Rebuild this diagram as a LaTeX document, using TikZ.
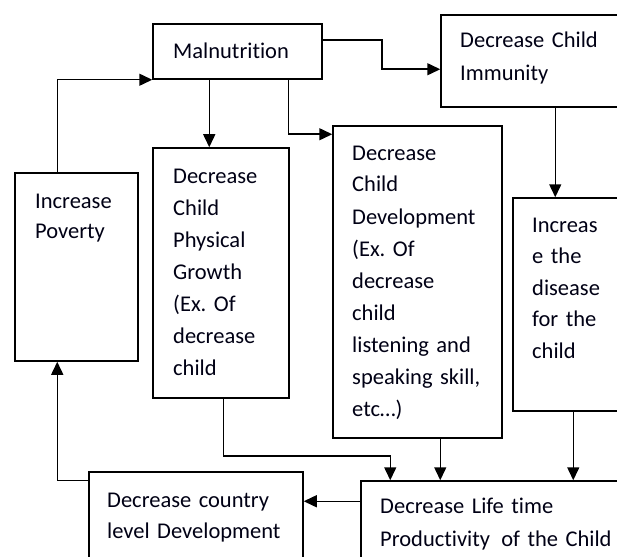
\documentclass[tikz,border=0pt]{standalone}
\usepackage{fontspec}
\setmainfont{Carlito}[Ligatures=NoCommon]
\usetikzlibrary{calc,arrows.meta}

\tikzset{
  box/.style={draw, line width=1.5pt, inner sep=0pt, rectangle},
  arr/.style={line width=1.5pt, -{Triangle[length=13pt,width=12pt]}},
  txt/.style={anchor=base west, inner sep=0pt, text width=300pt, align=left,
              font=\fontsize{22.5}{32}\selectfont, text=black!92!blue},
}
% place a box by its left, top, right and bottom edges
\newcommand{\boxat}[5]{%
  \node[box, minimum width=#4-#2, minimum height=#5-#3] (#1)
    at ({(#2+#4)/2},{(#3+#5)/2}) {};}

\begin{document}
\frenchspacing
\begin{tikzpicture}[x=1pt, y=-1pt]
  \useasboundingbox (0,0) rectangle (617,556);
  \clip (0,0) rectangle (617,556);

  % boxes
  \boxat{mal}{153}{24}{322}{79}
  \boxat{imm}{441}{15}{640}{107}
  \boxat{pov}{15}{173}{138}{361}
  \boxat{phy}{153}{148}{289}{398}
  \boxat{dev}{333}{126}{502}{438}
  \boxat{dis}{513}{198}{640}{411}
  \boxat{cty}{89}{472}{303}{580}
  \boxat{life}{361}{481}{640}{580}

  % texts
  \node[txt] (tmal) at (173,59) {Malnutrition};
  \node[txt, font=\fontsize{22.5}{32.5}\selectfont] (timm) at (460,48) {Decrease Child\\Immunity};
  \node[txt, font=\fontsize{22.5}{30}\selectfont] (tpov) at (35,208) {Increase\\Poverty};
  \node[txt] (tphy) at (173,183) {Decrease\\Child\\Physical\\Growth\\(Ex. Of\\decrease\\child};
  \node[txt] (tdev) at (352,160) {Decrease\\Child\\Development\\(Ex. Of\\decrease\\child\\listening and\\speaking skill,\\etc\ldots)};
  \node[txt, font=\fontsize{22.5}{31.5}\selectfont] (tdis) at (532,232) {Increas\\e the\\disease\\for the\\child};
  \node[txt, font=\fontsize{22.5}{31}\selectfont] (tcty) at (107,507) {Decrease country\\level Development};
  \node[txt, font=\fontsize{22.5}{33}\selectfont] (tlife) at (380,513) {Decrease Life time\\Productivity\, of the Child};

  % connectors
  \draw[arr] ($(pov.north west)+(43,0)$) |- (mal.south west);
  \draw[arr] ($(mal.south west)+(57,0)$) -- ($(phy.north west)+(57,0)$);
  \draw[arr] ($(mal.south west)+(136,0)$) |- ($(dev.north west)+(0,9)$);
  \draw[arr] ($(mal.north east)+(0,17)$) -- ++(59,0) |- ($(imm.north west)+(0,55)$);
  \draw[arr] ($(imm.south west)+(115,0)$) -- ($(dis.north west)+(43,0)$);
  \draw[arr] ($(phy.south west)+(71,0)$) -- ++(0,57) -| ($(life.north west)+(30,0)$);
  \draw[arr] ($(dev.south west)+(108,0)$) -- ($(life.north west)+(80,0)$);
  \draw[arr] ($(dis.south west)+(61,0)$) -- ($(life.north west)+(213,0)$);
  \draw[arr] ($(life.north west)+(0,21)$) -- ($(cty.north east)+(0,30)$);
  \draw[arr] ($(cty.north west)+(0,9)$) -| ($(pov.south west)+(43,0)$);
\end{tikzpicture}
\end{document}
